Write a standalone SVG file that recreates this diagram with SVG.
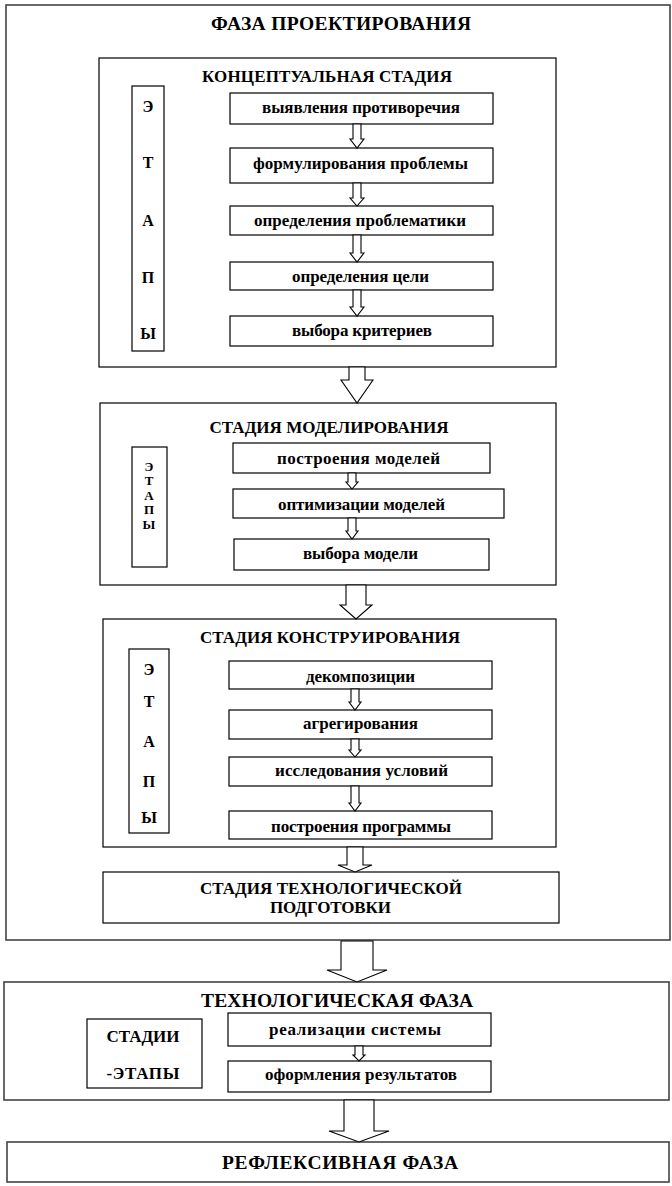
<svg xmlns="http://www.w3.org/2000/svg" width="672" height="1186" viewBox="0 0 672 1186">
<style>
.phase{fill:#fff;stroke:#444;stroke-width:1.6}
.box{fill:#fff;stroke:#000;stroke-width:1.2}
.arr{fill:#fff;stroke:#000;stroke-width:1.1;stroke-linejoin:miter}
text{font-family:"Liberation Serif","Times New Roman",serif;font-weight:bold;fill:#000;text-anchor:middle}
.t20{font-size:19.5px}
.t17{font-size:17px}
.t16{font-size:16px}
.t13{font-size:13px}
</style>
<rect width="672" height="1186" fill="#fff"/>

<g id="phase-design">
  <rect class="phase" x="6" y="5" width="664" height="935"/>
  <text class="t20" x="341" y="30" textLength="260">ФАЗА ПРОЕКТИРОВАНИЯ</text>
</g>

<g id="stage-concept">
  <rect class="box" x="99" y="58" width="457" height="309"/>
  <text class="t17" x="327" y="82" textLength="250">КОНЦЕПТУАЛЬНАЯ СТАДИЯ</text>
</g>
<g id="concept-etapy">
  <rect class="box" x="132" y="86" width="32" height="265"/>
  <text class="t16" x="148" y="112">Э</text>
  <text class="t16" x="148" y="168">Т</text>
  <text class="t16" x="148" y="226">А</text>
  <text class="t16" x="148" y="283">П</text>
  <text class="t16" x="148" y="339">Ы</text>
</g>
<g id="c1"><rect class="box" x="230" y="93" width="263" height="31"/><text class="t17" x="361" y="113" textLength="198">выявления противоречия</text></g>
<g id="c2"><rect class="box" x="230" y="148" width="263" height="35"/><text class="t17" x="360.5" y="169" textLength="215">формулирования проблемы</text></g>
<g id="c3"><rect class="box" x="230" y="206" width="263" height="29"/><text class="t17" x="360" y="226" textLength="212">определения проблематики</text></g>
<g id="c4"><rect class="box" x="230" y="262" width="263" height="28"/><text class="t17" x="360.5" y="282" textLength="137">определения цели</text></g>
<g id="c5"><rect class="box" x="230" y="316" width="263" height="30"/><text class="t17" x="362" y="336" textLength="140">выбора критериев</text></g>

<g id="stage-model">
  <rect class="box" x="100" y="403" width="456" height="182"/>
  <text class="t17" x="329" y="433" textLength="239">СТАДИЯ МОДЕЛИРОВАНИЯ</text>
</g>
<g id="model-etapy">
  <rect class="box" x="132" y="447" width="35" height="120"/>
  <text class="t13" x="149" y="470.5">Э</text>
  <text class="t13" x="149" y="485">Т</text>
  <text class="t13" x="149" y="499.5">А</text>
  <text class="t13" x="149" y="514">П</text>
  <text class="t13" x="149" y="528.5">Ы</text>
</g>
<g id="m1"><rect class="box" x="233" y="443" width="257" height="30"/><text class="t17" x="358.5" y="464" textLength="163">построения моделей</text></g>
<g id="m2"><rect class="box" x="233" y="489" width="271" height="29"/><text class="t17" x="361.5" y="510" textLength="167">оптимизации моделей</text></g>
<g id="m3"><rect class="box" x="234" y="539" width="255" height="31"/><text class="t17" x="360.5" y="559" textLength="115">выбора модели</text></g>

<g id="stage-construct">
  <rect class="box" x="103" y="619" width="453" height="228"/>
  <text class="t17" x="330" y="643" textLength="260">СТАДИЯ КОНСТРУИРОВАНИЯ</text>
</g>
<g id="construct-etapy">
  <rect class="box" x="129" y="649" width="40" height="184"/>
  <text class="t16" x="149" y="675">Э</text>
  <text class="t16" x="149" y="707">Т</text>
  <text class="t16" x="149" y="747">А</text>
  <text class="t16" x="149" y="787">П</text>
  <text class="t16" x="149" y="823">Ы</text>
</g>
<g id="k1"><rect class="box" x="229" y="661" width="263" height="28"/><text class="t17" x="360.5" y="682" textLength="109">декомпозиции</text></g>
<g id="k2"><rect class="box" x="229" y="710" width="263" height="29"/><text class="t17" x="360.5" y="729" textLength="115">агрегирования</text></g>
<g id="k3"><rect class="box" x="229" y="757" width="263" height="29"/><text class="t17" x="361.5" y="776" textLength="173">исследования условий</text></g>
<g id="k4"><rect class="box" x="229" y="811" width="263" height="28"/><text class="t17" x="361" y="832" textLength="180">построения программы</text></g>

<g id="stage-techprep">
  <rect class="box" x="103" y="872" width="456" height="51"/>
  <text class="t17" x="331" y="894" textLength="262">СТАДИЯ ТЕХНОЛОГИЧЕСКОЙ</text>
  <text class="t17" x="330.5" y="913" textLength="121">ПОДГОТОВКИ</text>
</g>

<g id="phase-tech">
  <rect class="phase" x="4" y="982" width="665" height="118"/>
  <text class="t20" x="337" y="1007" textLength="272">ТЕХНОЛОГИЧЕСКАЯ ФАЗА</text>
</g>
<g id="tech-stadii">
  <rect class="box" x="87" y="1019" width="115" height="69"/>
  <text class="t17" x="143" y="1042" textLength="73">СТАДИИ</text>
  <text class="t17" x="143" y="1079" textLength="73">-ЭТАПЫ</text>
</g>
<g id="t1"><rect class="box" x="228" y="1013" width="263" height="33"/><text class="t17" x="355" y="1035" textLength="172">реализации системы</text></g>
<g id="t2"><rect class="box" x="228" y="1061" width="263" height="31"/><text class="t17" x="361" y="1080" textLength="192">оформления результатов</text></g>

<g id="phase-reflex">
  <rect class="phase" x="7" y="1142" width="662" height="40"/>
  <text class="t20" x="340" y="1169" textLength="236">РЕФЛЕКСИВНАЯ ФАЗА</text>
</g>

<g id="connectors">
  <path class="arr" d="M353,124 V139 H350 L357,148 L364,139 H361 V124 Z"/>
  <path class="arr" d="M353,183 V198 H350 L357,206 L364,198 H361 V183 Z"/>
  <path class="arr" d="M353,235 V253 H350 L357,262 L364,253 H361 V235 Z"/>
  <path class="arr" d="M353,290 V307 H350 L357,316 L364,307 H361 V290 Z"/>
  <path class="arr" d="M349,367 V380 H341 L357,403 L373,380 H365 V367 Z"/>
  <path class="arr" d="M348,473 V482 H346 L352,489 L358,482 H356 V473 Z"/>
  <path class="arr" d="M348,518 V531 H346 L352,539 L358,531 H356 V518 Z"/>
  <path class="arr" d="M346,585 V605 H340 L356,619 L372,605 H366 V585 Z"/>
  <path class="arr" d="M351,689 V702 H349 L355,710 L361,702 H359 V689 Z"/>
  <path class="arr" d="M351,739 V750 H349 L355,757 L361,750 H359 V739 Z"/>
  <path class="arr" d="M351,786 V803 H349 L355,811 L361,803 H359 V786 Z"/>
  <path class="arr" d="M347,847 V865 H338 L355,872 L372,865 H363 V847 Z"/>
  <path class="arr" d="M341,941 V970 H327 L357,982 L387,970 H373 V941 Z"/>
  <path class="arr" d="M355,1046 V1055 H353 L359,1061 L365,1055 H363 V1046 Z"/>
  <path class="arr" d="M344,1100 V1131 H329 L359,1142 L389,1131 H374 V1100 Z"/>
</g>
</svg>
